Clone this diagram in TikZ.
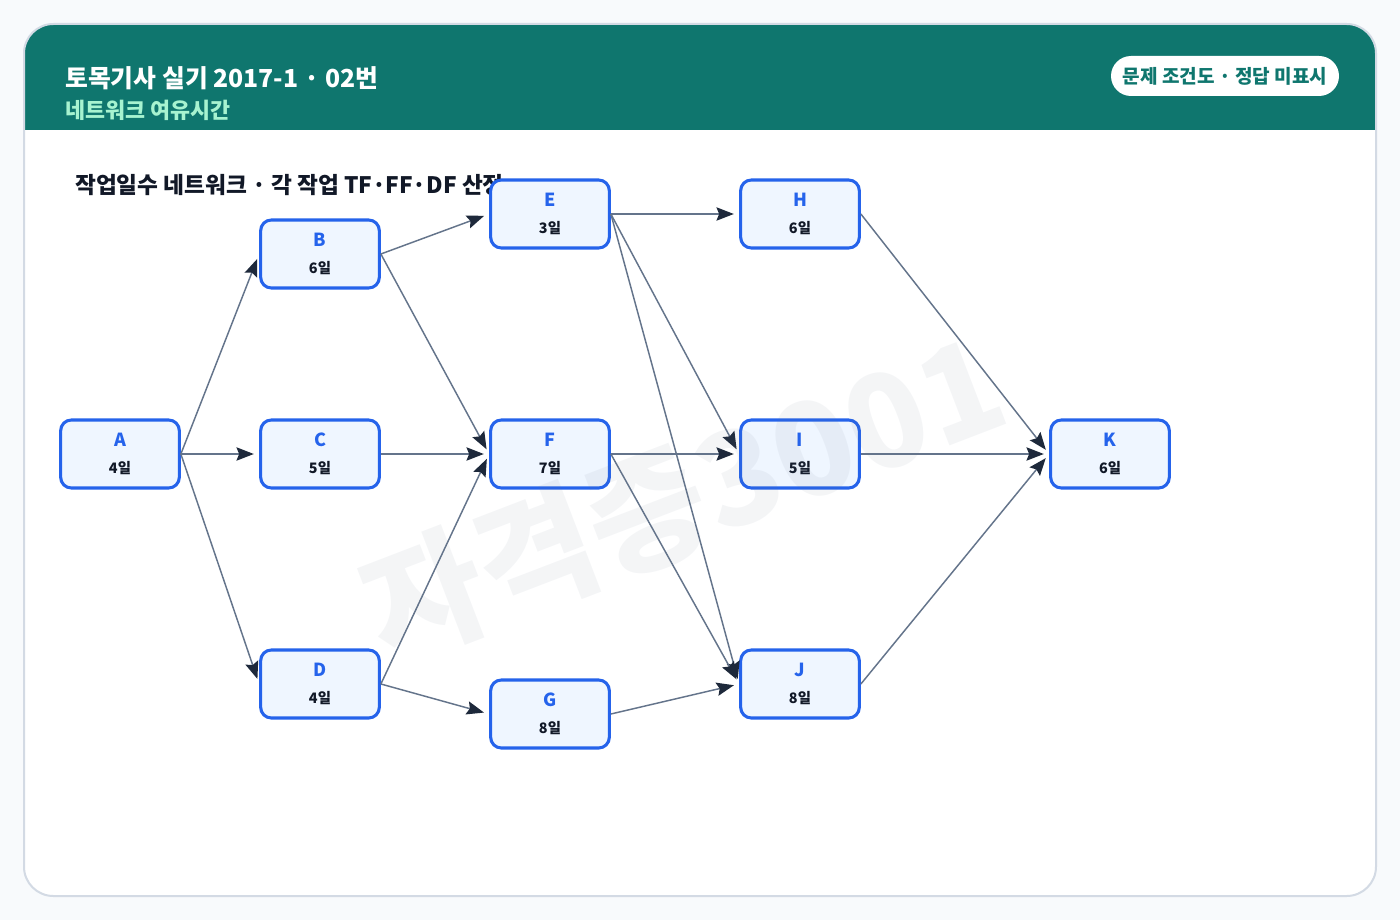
\documentclass[tikz,border=0pt]{standalone}
\usepackage{fontspec}
\setmainfont{Noto Sans CJK KR}
\usetikzlibrary{arrows.meta}
\definecolor{pagebg}{HTML}{F8FAFC}
\definecolor{cardline}{HTML}{D3DAE4}
\definecolor{headteal}{HTML}{0F766E}
\definecolor{headmint}{HTML}{A7F3D0}
\definecolor{jobblue}{HTML}{2563EB}
\definecolor{jobfill}{HTML}{EFF6FF}
\definecolor{edgegray}{HTML}{64748B}
\definecolor{tipnavy}{HTML}{1E293B}
\definecolor{inkdark}{HTML}{111827}

\begin{document}
\begin{tikzpicture}[x=0.75pt,y=-0.75pt,
    job/.style={draw=jobblue,fill=jobfill,line width=2.3pt,rounded corners=8pt,
      minimum width=89pt,minimum height=51pt,align=center,inner sep=0pt,
      font=\fontsize{10.8pt}{20pt}\selectfont},
    edge/.style={draw=edgegray,line width=1.1pt,shorten >=4pt,
      -{Stealth[length=13pt,width=10pt,inset=2pt,color=tipnavy]}}]
    \useasboundingbox (0,0) rectangle (1400,920);
    \fill[pagebg] (0,0) rectangle (1400,920);
    \fill[white,rounded corners=22pt] (24,24) rectangle (1376,896);
    \fill[headteal] (24,130) {[rounded corners=22pt] -- (24,24) -- (1376,24)} -- (1376,130) -- cycle;
    \draw[cardline,line width=1.5pt,rounded corners=22pt] (24,24) rectangle (1376,896);
    \node[anchor=base west,text=white,font=\fontsize{18.6pt}{20pt}\bfseries,inner sep=0pt] (title) at (65,88) {토목기사 실기 2017-1 · 02번};
    \node[anchor=base west,text=headmint,font=\fontsize{16.3pt}{18pt}\bfseries,inner sep=0pt] (subtitle) at (65,119) {네트워크 여유시간};
    \node[fill=white,rounded corners=15pt,minimum width=171pt,minimum height=30pt,
      text=headteal,font=\fontsize{14.3pt}{16pt}\bfseries] (pill) at (1225,76) {문제 조건도 · 정답 미표시};
    \node[anchor=base west,text=inkdark,font=\fontsize{17pt}{19pt}\bfseries,inner sep=0pt] (heading) at (75,194) {작업일수 네트워크 · 각 작업 TF·FF·DF 산정};
    \foreach \n/\x/\y/\d in {A/120/454/4,B/320/254/6,C/320/454/5,D/320/684/4,E/550/214/3,F/550/454/7,
      G/550/714/8,H/800/214/6,I/800/454/5,J/800/684/8,K/1110/454/6}
      \node[job] (\n) at (\x,\y) {{\color{jobblue}\fontsize{13.5pt}{20pt}\bfseries \n}\\
        {\color{inkdark}\bfseries \d{}일}};
    \foreach \s/\t in {A/B,A/C,A/D,B/E,B/F,C/F,D/F,D/G,E/H,E/I,E/J,F/I,F/J,G/J,H/K,I/K,J/K}
      \draw[edge] (\s.east) -- (\t.west);
    \node[rotate=21,text=edgegray,opacity=0.07,font=\fontsize{97pt}{97pt}\bfseries] (mark) at (683,497) {자격증3001};
\end{tikzpicture}
\end{document}
